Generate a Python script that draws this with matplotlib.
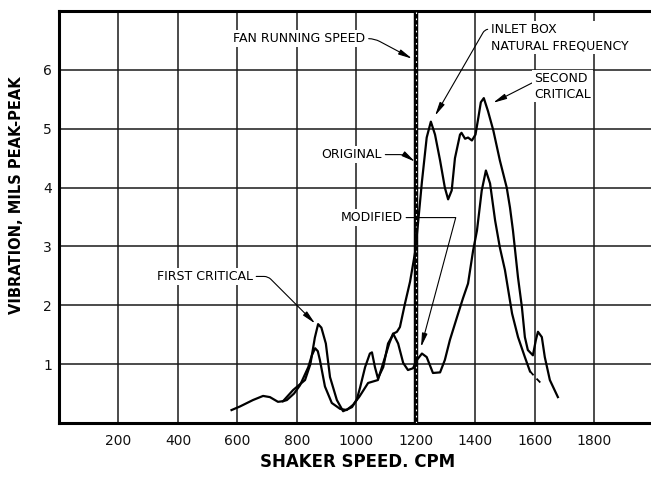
import matplotlib.pyplot as plt

# shaker test readings
orig_cpm = [580, 608, 652, 686, 709, 736, 753, 787, 827, 845, 860, 871, 882, 897,
            911, 934, 955, 985, 1001, 1012, 1029, 1045, 1052, 1062, 1072, 1090, 1106,
            1125, 1136, 1146, 1163, 1180, 1197, 1207, 1220, 1236, 1250, 1264, 1281,
            1297, 1308, 1320, 1331, 1348, 1353, 1365, 1375, 1388, 1400, 1410, 1418,
            1428, 1442, 1460, 1482, 1505, 1516, 1526, 1543, 1556, 1566, 1576, 1593,
            1603, 1610, 1623, 1633, 1650, 1677]
orig_mils = [0.22, 0.28, 0.39, 0.46, 0.44, 0.36, 0.37, 0.56, 0.73, 1.0, 1.45, 1.68, 1.62,
             1.35, 0.78, 0.39, 0.2, 0.27, 0.40, 0.6, 0.95, 1.18, 1.2, 0.95, 0.76, 0.95,
             1.35, 1.52, 1.55, 1.63, 2.03, 2.4, 2.9, 3.4, 4.1, 4.85, 5.12, 4.9, 4.46,
             4.0, 3.8, 3.95, 4.5, 4.9, 4.93, 4.83, 4.85, 4.8, 4.9, 5.2, 5.45, 5.52,
             5.3, 4.97, 4.46, 4.0, 3.66, 3.27, 2.47, 1.97, 1.46, 1.24, 1.15, 1.41,
             1.55, 1.46, 1.12, 0.73, 0.44]

mod_cpm = [753, 766, 790, 810, 838, 850, 861, 870, 877, 894, 917, 945, 967, 989, 1010,
           1039, 1072, 1096, 1110, 1123, 1140, 1157, 1173, 1190, 1203, 1220, 1236, 1257,
           1281, 1297, 1314, 1338, 1358, 1375, 1392, 1405, 1421, 1435, 1449, 1466, 1482,
           1499, 1523, 1543, 1566, 1583]
mod_mils = [0.37, 0.39, 0.5, 0.64, 0.95, 1.15, 1.27, 1.22, 1.07, 0.62, 0.34, 0.24, 0.22,
            0.31, 0.45, 0.68, 0.73, 1.12, 1.35, 1.52, 1.35, 1.02, 0.9, 0.93, 1.07, 1.18,
            1.12, 0.85, 0.86, 1.07, 1.41, 1.8, 2.12, 2.37, 2.93, 3.27, 3.95, 4.29, 4.07,
            3.44, 2.98, 2.6, 1.86, 1.46, 1.12, 0.88]
# extrapolated end of the modified run (dashed on the chart)
mod_tail_cpm = [1583, 1606, 1627]
mod_tail_mils = [0.88, 0.75, 0.64]

fan_speed = 1200
x_ticks = [200, 400, 600, 800, 1000, 1200, 1400, 1600, 1800]
y_ticks = [1, 2, 3, 4, 5, 6]

plt.rcParams['font.family'] = ['DejaVu Sans']

fig = plt.figure(figsize=(6.51, 4.78), dpi=100)
ax = fig.add_axes([59 / 651, 55 / 478, 592 / 651, 412 / 478])
ax.set_xlim(0, 1990)
ax.set_ylim(0, 7)
ax.set_xticks(x_ticks)
ax.set_yticks(y_ticks)
ax.tick_params(length=0, labelsize=10, colors='#111111')
ax.tick_params(axis='x', pad=8)
ax.tick_params(axis='y', pad=5)
ax.grid(True, color='#1a1a1a', lw=1.1)
ax.set_axisbelow(True)

for side in ['left', 'top', 'bottom']:
    ax.spines[side].set_linewidth(2.2)
ax.spines['right'].set_visible(False)

# fan running speed marker
ax.axvline(fan_speed, color='k', lw=3.2, zorder=3)
ax.axvline(fan_speed, color='w', lw=0.8, ls=(0, (1.5, 4)), zorder=3)

ax.plot(orig_cpm, orig_mils, color='k', lw=1.6, solid_joinstyle='round', zorder=4)
ax.plot(mod_cpm, mod_mils, color='k', lw=1.6, solid_joinstyle='round', zorder=4)
ax.plot(mod_tail_cpm, mod_tail_mils, color='k', lw=1.3, ls=(0, (3, 2.5)), zorder=4)

ax.set_xlabel('SHAKER SPEED. CPM', fontsize=12, fontweight='bold', va='center')
ax.xaxis.set_label_coords(0.505, -0.095)
ax.set_ylabel('VIBRATION, MILS PEAK-PEAK', fontsize=10.5, fontweight='bold', va='center')
ax.yaxis.set_label_coords(-0.071, 0.553)

box = dict(boxstyle='square,pad=0.15', fc='white', ec='none')


def arrow(cs, relpos):
    return dict(arrowstyle='-|>,head_length=0.9,head_width=0.18', color='k', lw=0.8,
                connectionstyle=cs, relpos=relpos, shrinkA=1, shrinkB=0)


ax.annotate('FAN RUNNING SPEED', xy=(1187, 6.19), xytext=(1030, 6.53),
            ha='right', va='center', fontsize=9, bbox=box, zorder=5,
            arrowprops=arrow('angle,angleA=0,angleB=-28,rad=6', (1, 0.5)))
ax.annotate('INLET BOX\nNATURAL FREQUENCY', xy=(1264, 5.22), xytext=(1452, 6.55),
            ha='left', va='center', fontsize=9, linespacing=1.35, bbox=box, zorder=5,
            arrowprops=arrow('angle,angleA=180,angleB=60,rad=4', (0, 0.78)))
ax.annotate('SECOND\nCRITICAL', xy=(1459, 5.44), xytext=(1597, 5.72),
            ha='left', va='center', fontsize=9, linespacing=1.25, bbox=box, zorder=5,
            arrowprops=arrow('angle,angleA=180,angleB=27,rad=6', (0, 0.72)))
ax.annotate('ORIGINAL', xy=(1197, 4.44), xytext=(1086, 4.56),
            ha='right', va='center', fontsize=9, bbox=box, zorder=5,
            arrowprops=arrow('angle,angleA=0,angleB=-34,rad=5', (1, 0.5)))
ax.annotate('MODIFIED', xy=(1217, 1.29), xytext=(1156, 3.49),
            ha='right', va='center', fontsize=9, bbox=box, zorder=5,
            arrowprops=arrow('angle,angleA=0,angleB=75,rad=0', (1, 0.5)))
ax.annotate('FIRST CRITICAL', xy=(861, 1.69), xytext=(652, 2.49),
            ha='right', va='center', fontsize=9, bbox=box, zorder=5,
            arrowprops=arrow('angle,angleA=0,angleB=-45,rad=4', (1, 0.5)))

fig.savefig('out.png', dpi=100)
